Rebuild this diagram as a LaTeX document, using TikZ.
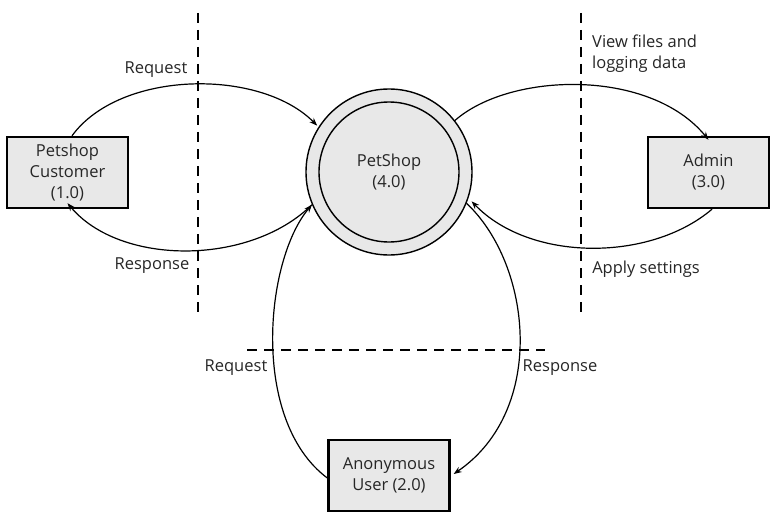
\documentclass[tikz,border=0pt]{standalone}
\usepackage{fontspec}
\setmainfont{Open Sans}
\usetikzlibrary{arrows.meta}
\definecolor{boxfill}{HTML}{E8E8E8}
\definecolor{txt}{HTML}{262626}
\begin{document}
\begin{tikzpicture}[x=1pt,y=-1pt,
  every node/.style={font=\fontsize{16.5}{21}\selectfont, text=txt},
  entity/.style={draw=black, line width=2.4pt, fill=boxfill, minimum width=121pt, minimum height=71pt, align=center, inner sep=0pt},
  flow/.style={line width=1.2pt, -{Stealth[length=8pt,width=6pt]}},
  boundary/.style={line width=2.4pt, dash pattern=on 10pt off 7pt},
  lbl/.style={inner sep=0pt, align=left}]
\useasboundingbox (0,0) rectangle (776,516);

% trust boundaries
\draw[boundary] (198,13) -- (198,312);
\draw[boundary] (581,13) -- (581,312);
\draw[boundary] (247,350) -- (545,350);

% nodes
\node[entity] (cust) at (67.5,172.5) {Petshop\\Customer\\(1.0)};
\node[entity] (admin) at (708.5,172.5) {Admin\\(3.0)};
\node[entity] (anon) at (389,475.5) {Anonymous\\User (2.0)};
\node[circle, draw=black, line width=1.4pt, fill=boxfill, minimum size=166pt, inner sep=0pt] (ps) at (389,172) {};
\node[circle, draw=black, line width=1.4pt, minimum size=140pt, inner sep=0pt, align=center] (psin) at (389,172) {PetShop\\(4.0)};

% flows
\draw[flow] (cust.83) .. controls (120,70) and (260,68) .. ([shift={(-5pt,-4pt)}]ps.143);
\draw[flow] (ps.203) .. controls (250,266) and (120,266) .. ([yshift=6pt]cust.south);
\draw[flow] (ps.38) .. controls (510,72) and (650,68) .. ([yshift=-4pt]admin.north);
\draw[flow] ([xshift=3.5pt]admin.south) .. controls (650,262) and (530,262) .. ([shift={(5pt,2pt)}]ps.-22.5);
\draw[flow] ([yshift=-2.5pt]anon.west) .. controls (250,420) and (265,260) .. (ps.203);
\draw[flow] (ps.-22.5) .. controls (532,265) and (547,410) .. ([shift={(3pt,1.5pt)}]anon.east);

% labels
\node[lbl] (l1) at (156,70) {Request};
\node[lbl] (l2) at (152,266) {Response};
\node[lbl, anchor=west] (l3) at (592,54) {View files and\\logging data};
\node[lbl] (l4) at (646,269) {Apply settings};
\node[lbl] (l5) at (236,368) {Request};
\node[lbl] (l6) at (560,368) {Response};
\end{tikzpicture}
\end{document}
